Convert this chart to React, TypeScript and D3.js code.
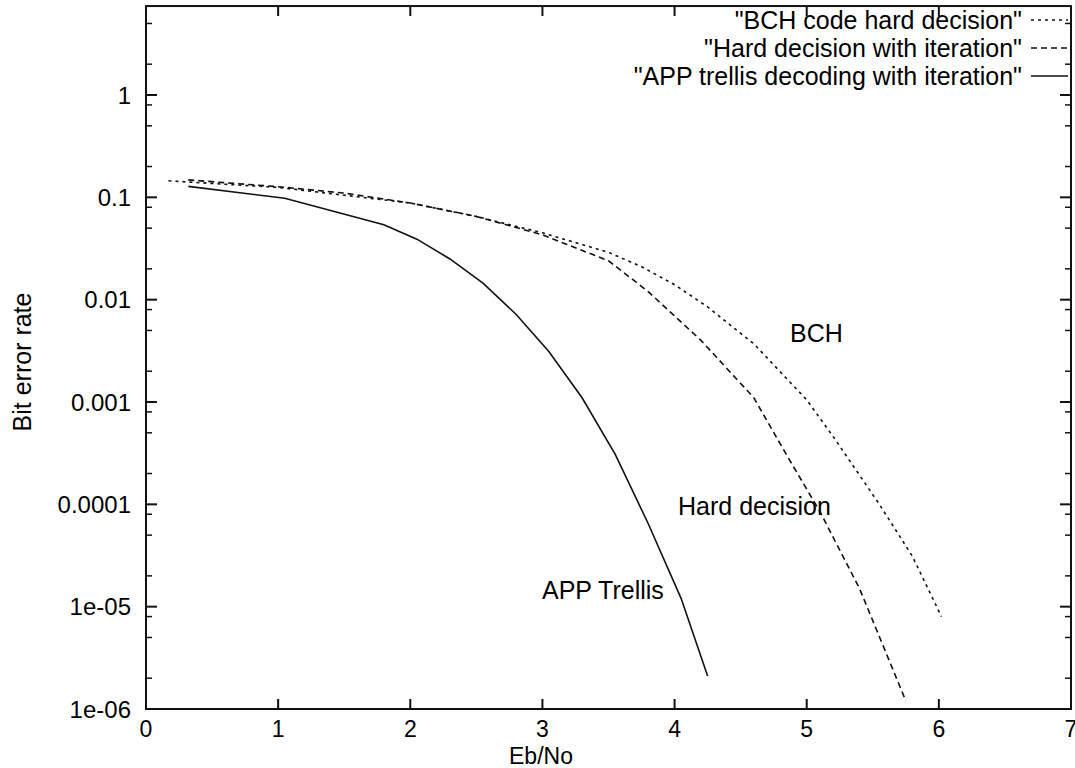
import * as d3 from "d3";

// Eb/No (dB) vs bit error rate
const bchX = [0.17, 1.0, 2.0, 2.5, 3.0, 3.5, 3.75, 4.0, 4.25, 4.6, 5.0, 5.2, 5.55, 5.8, 6.02];
const bchY = [0.145, 0.125, 0.088, 0.065, 0.045, 0.029, 0.021, 0.014, 0.0085, 0.0037, 0.00105, 0.00046, 0.0001, 0.000031, 0.000008];

const hardX = [0.32, 1.0, 1.5, 2.0, 2.5, 3.0, 3.5, 3.8, 4.2, 4.6, 4.85, 5.1, 5.4, 5.75];
const hardY = [0.148, 0.127, 0.11, 0.088, 0.065, 0.043, 0.024, 0.012, 0.004, 0.0011, 0.0003, 0.000085, 0.000015, 0.0000012];

const appX = [0.32, 1.05, 1.8, 2.05, 2.3, 2.55, 2.8, 3.05, 3.3, 3.55, 3.8, 4.05, 4.25];
const appY = [0.128, 0.098, 0.054, 0.039, 0.025, 0.0145, 0.0072, 0.0031, 0.0011, 0.00031, 0.000065, 0.000012, 0.0000021];

const xTicks = [0, 1, 2, 3, 4, 5, 6, 7];
const yTicks = [1, 0.1, 0.01, 0.001, 0.0001, 0.00001, 0.000001];
const yTickLabels = ["1", "0.1", "0.01", "0.001", "0.0001", "1e-05", "1e-06"];
const minorMult = [2, 5, 8];
const yTop = 7.4;

const legendNames = [
  '"BCH code hard decision"',
  '"Hard decision with iteration"',
  '"APP trellis decoding with iteration"',
];
const dashes = ["3,4", "6,4", ""];

const W = 1075;
const H = 768;
const left = 146;
const right = 1071;
const bottom = 709;

const font = "'Liberation Sans', Arial, Helvetica, sans-serif";

export default function App() {
  const x = d3.scaleLinear().domain([0, 7]).range([left, right]);
  const y = d3.scaleLog().domain([1e-6, 1]).range([bottom, 95]);
  const top = y(yTop);

  const line = d3
    .line<[number, number]>()
    .x((d) => x(d[0]))
    .y((d) => y(d[1]));

  const series = [
    bchX.map((v, i) => [v, bchY[i]] as [number, number]),
    hardX.map((v, i) => [v, hardY[i]] as [number, number]),
    appX.map((v, i) => [v, appY[i]] as [number, number]),
  ];

  const minors: number[] = [];
  for (let e = -6; e <= 0; e++) {
    minorMult.forEach((m) => {
      const v = m * Math.pow(10, e);
      if (v > 1e-6 && v < yTop) minors.push(v);
    });
  }

  const stroke = "#111";

  return (
    <svg
      width={W}
      height={H}
      style={{ position: "absolute", left: 0, top: 0, background: "#fff" }}
      fontFamily={font}
      fontSize={25}
    >
      <rect x={left} y={top} width={right - left} height={bottom - top} fill="none" stroke={stroke} strokeWidth={2} />

      {/* y ticks */}
      {yTicks.map((t, i) => (
        <g key={"y" + i}>
          <line x1={left} x2={left + 11} y1={y(t)} y2={y(t)} stroke={stroke} strokeWidth={2} />
          <line x1={right} x2={right - 11} y1={y(t)} y2={y(t)} stroke={stroke} strokeWidth={2} />
          <text x={131} y={y(t)} textAnchor="end" dominantBaseline="central" fill="#000" fontSize={24}>
            {yTickLabels[i]}
          </text>
        </g>
      ))}
      {minors.map((t, i) => (
        <g key={"m" + i}>
          <line x1={left} x2={left + 6} y1={y(t)} y2={y(t)} stroke={stroke} strokeWidth={1.5} />
          <line x1={right} x2={right - 6} y1={y(t)} y2={y(t)} stroke={stroke} strokeWidth={1.5} />
        </g>
      ))}

      {/* x ticks */}
      {xTicks.map((t) => (
        <g key={"x" + t}>
          <line x1={x(t)} x2={x(t)} y1={bottom} y2={bottom - 10} stroke={stroke} strokeWidth={2} />
          <line x1={x(t)} x2={x(t)} y1={top} y2={top + 10} stroke={stroke} strokeWidth={2} />
          <text x={x(t)} y={729} textAnchor="middle" dominantBaseline="central" fill="#000" fontSize={23}>
            {t}
          </text>
        </g>
      ))}

      {/* curves */}
      {series.map((s, i) => (
        <path
          key={"s" + i}
          d={line(s) || ""}
          fill="none"
          stroke={stroke}
          strokeWidth={1.6}
          strokeDasharray={dashes[i]}
        />
      ))}

      {/* legend */}
      {legendNames.map((n, i) => (
        <g key={"l" + i}>
          <text x={1022} y={20 + i * 28} textAnchor="end" dominantBaseline="central" fill="#000" fontSize={25}>
            {n}
          </text>
          <line
            x1={1031}
            x2={1068}
            y1={20 + i * 28}
            y2={20 + i * 28}
            stroke={stroke}
            strokeWidth={1.6}
            strokeDasharray={dashes[i]}
          />
        </g>
      ))}

      {/* annotations */}
      <text x={790} y={333} dominantBaseline="central" fill="#000">BCH</text>
      <text x={678} y={506} dominantBaseline="central" fill="#000">Hard decision</text>
      <text x={542} y={590} dominantBaseline="central" fill="#000">APP Trellis</text>

      {/* axis titles */}
      <text x={541} y={756} textAnchor="middle" dominantBaseline="central" fill="#000" fontSize={23}>
        Eb/No
      </text>
      <text
        transform={`translate(22,${362}) rotate(-90)`}
        textAnchor="middle"
        dominantBaseline="central"
        fill="#000"
      >
        Bit error rate
      </text>
    </svg>
  );
}
